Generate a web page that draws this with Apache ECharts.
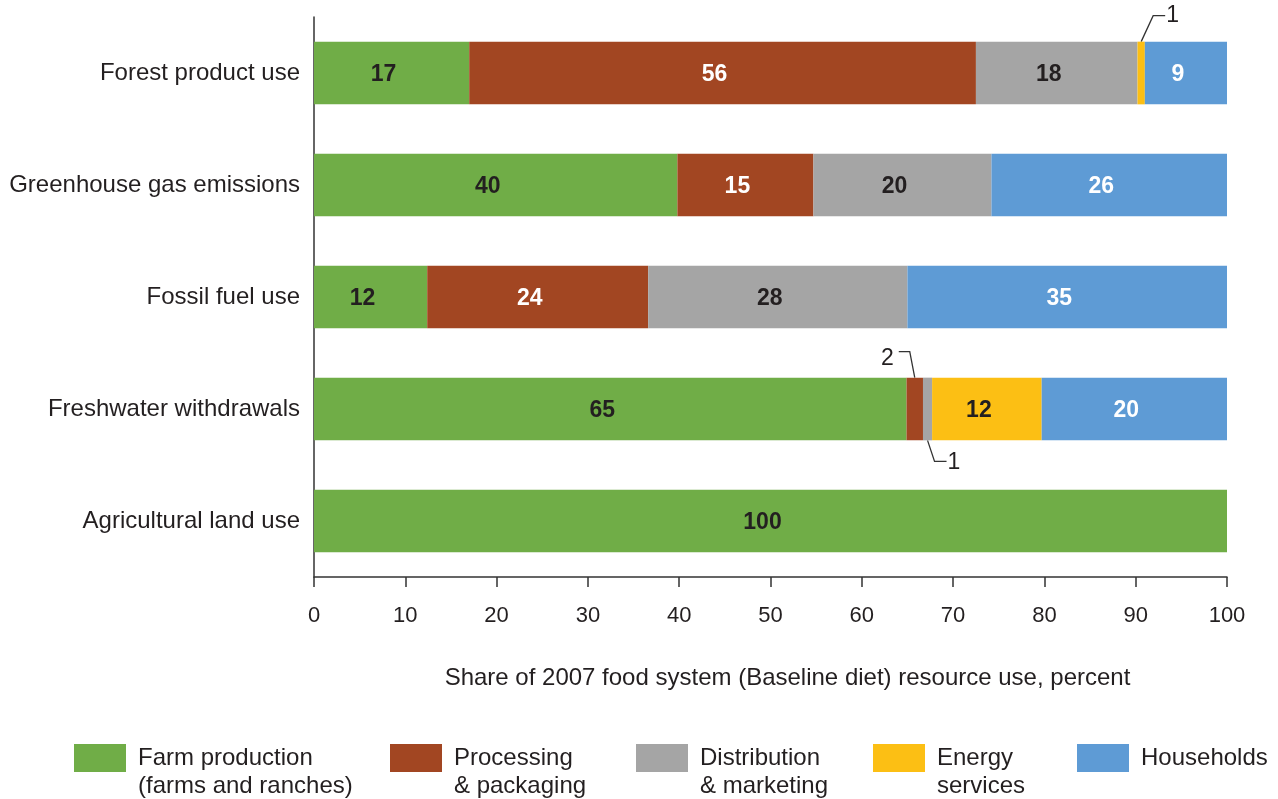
<!DOCTYPE html>
<html>
<head>
<meta charset="utf-8">
<script src="https://cdn.jsdelivr.net/npm/echarts@6/dist/echarts.min.js"></script>
<style>
html,body{margin:0;padding:0;background:#fff;}
#chart{width:1278px;height:799px;}
</style>
</head>
<body>
<div id="chart"></div>
<script>
// ---- Data ----
const categories = ['Forest product use', 'Greenhouse gas emissions', 'Fossil fuel use', 'Freshwater withdrawals', 'Agricultural land use'];
const farm = [17.0, 39.8, 12.4, 64.9, 100];
const processing = [55.5, 14.9, 24.2, 1.8, null];
const distribution = [17.7, 19.5, 28.4, 1.0, null];
const energy = [0.8, null, null, 12.0, null];
const households = [9.0, 25.8, 35.0, 20.3, null];
const seriesNames = ['Farm production\n(farms and ranches)', 'Processing\n& packaging', 'Distribution\n& marketing', 'Energy\nservices', 'Households'];
const xTicks = [0, 10, 20, 30, 40, 50, 60, 70, 80, 90, 100];
const xAxisTitle = 'Share of 2007 food system (Baseline diet) resource use, percent';

// ---- Style ----
const FONT = '"Liberation Sans", Arial, Helvetica, sans-serif';
const colors = ['#70AD47', '#A24622', '#A5A5A5', '#FCBF14', '#5E9BD5'];
const labelColors = ['#231f20', '#ffffff', '#231f20', '#231f20', '#ffffff'];
const seriesData = [farm, processing, distribution, energy, households];

const chart = echarts.init(document.getElementById('chart'), null, {renderer: 'canvas'});

const series = seriesData.map((d, i) => ({
  name: seriesNames[i],
  type: 'bar',
  stack: 'total',
  barWidth: '56%',
  data: d,
  itemStyle: {color: colors[i]},
  label: {
    show: true,
    position: 'inside',
    offset: [-8, 2],
    color: labelColors[i],
    fontFamily: FONT,
    fontWeight: 'bold',
    fontSize: 23,
    formatter: p => (p.value != null && p.value >= 3) ? String(Math.round(p.value)) : ''
  },
  emphasis: {disabled: true}
}));

const legendLefts = [74, 390, 636, 873, 1077];
const legends = seriesNames.map((n, i) => {
  const multi = n.indexOf('\n') >= 0;
  return {
    data: [n],
    left: legendLefts[i],
    top: multi ? 744 - 28 : 744,
    padding: 0,
    orient: 'horizontal',
    icon: 'rect',
    itemWidth: 52,
    itemHeight: 28,
    selectedMode: false,
    formatter: name => (name.indexOf('\n') >= 0 ? ' \n' + name : name),
    textStyle: {
      fontFamily: FONT,
      fontSize: 24,
      lineHeight: 28,
      color: '#231f20',
      padding: [0, 0, 0, 7]
    }
  };
});

chart.setOption({
  animation: false,
  backgroundColor: '#ffffff',
  textStyle: {fontFamily: FONT},
  grid: {left: 314, right: 51, top: 17, bottom: 222, containLabel: false},
  legend: legends,
  xAxis: {
    type: 'value',
    min: 0,
    max: 100,
    interval: 10,
    name: xAxisTitle,
    nameLocation: 'middle',
    nameGap: 89,
    nameTextStyle: {fontFamily: FONT, fontSize: 24, color: '#231f20', padding: [0, 0, 0, 34]},
    axisLine: {show: true, lineStyle: {color: '#333', width: 1.5}},
    axisTick: {show: true, length: 10, lineStyle: {color: '#333', width: 1.5}},
    axisLabel: {fontFamily: FONT, fontSize: 22, color: '#231f20', margin: 28,
      formatter: v => xTicks.indexOf(v) >= 0 ? String(v) : ''},
    splitLine: {show: false}
  },
  yAxis: {
    type: 'category',
    data: categories,
    inverse: true,
    axisLine: {show: true, lineStyle: {color: '#333', width: 1.5}},
    axisTick: {show: false},
    axisLabel: {fontFamily: FONT, fontSize: 24, color: '#231f20', margin: 14, padding: [4, 0, 0, 0]},
    splitLine: {show: false}
  },
  series: series
});

// ---- Callouts for tiny segments (positions derived from the axes) ----
const callouts = [
  {s: 3, c: 0, side: 'top', dir: 1},     // Forest energy (1)
  {s: 1, c: 3, side: 'top', dir: -1},    // Freshwater processing (2)
  {s: 2, c: 3, side: 'bottom', dir: 1}   // Freshwater distribution (1)
];
function drawCallouts() {
  const y0 = chart.convertToPixel({yAxisIndex: 0}, categories[0]);
  const y1 = chart.convertToPixel({yAxisIndex: 0}, categories[1]);
  const band = Math.abs(y1 - y0);
  const half = band * 0.56 / 2;
  const elements = [];
  callouts.forEach(co => {
    let cum = 0;
    for (let k = 0; k < co.s; k++) cum += (seriesData[k][co.c] || 0);
    const v = seriesData[co.s][co.c];
    const ax = chart.convertToPixel({xAxisIndex: 0}, cum + v / 2);
    const cy = chart.convertToPixel({yAxisIndex: 0}, categories[co.c]);
    let pts, tx, ty, align;
    if (co.side === 'top') {
      const top = cy - half;
      if (co.dir > 0) {
        pts = [[ax, top], [ax + 12, top - 26], [ax + 24, top - 26]];
        tx = ax + 25; ty = top - 26; align = 'left';
      } else {
        pts = [[ax, top], [ax - 5, top - 26], [ax - 16, top - 26]];
        tx = ax - 21; ty = top - 19; align = 'right';
      }
    } else {
      const bot = cy + half;
      pts = [[ax, bot], [ax + 7, bot + 21], [ax + 19, bot + 21]];
      tx = ax + 20; ty = bot + 22; align = 'left';
    }
    elements.push({type: 'polyline', shape: {points: pts}, style: {stroke: '#333', lineWidth: 1.3, fill: null}, silent: true});
    elements.push({type: 'text', x: tx, y: ty, style: {text: String(Math.round(v)), fontFamily: FONT, fontSize: 23, fill: '#231f20', align: align, verticalAlign: 'middle'}, silent: true});
  });
  chart.setOption({graphic: {elements: elements}});
}
drawCallouts();
</script>
</body>
</html>
